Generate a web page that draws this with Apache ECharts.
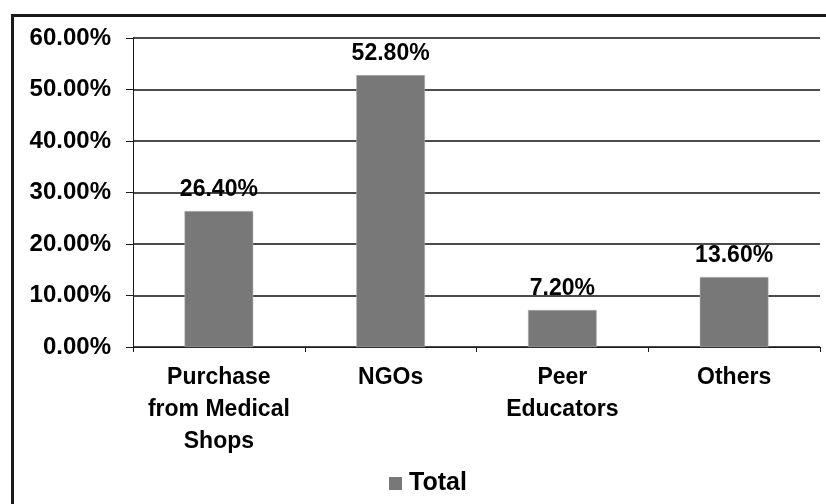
<!DOCTYPE html>
<html>
<head>
<meta charset="utf-8">
<script src="https://cdn.jsdelivr.net/npm/echarts@6/dist/echarts.min.js"></script>
<style>
  html, body { margin: 0; padding: 0; background: #fff; }
  #chart { width: 826px; height: 504px; }
</style>
</head>
<body>
<div id="chart"></div>
<script>
// Source of condoms, share of respondents (%)
const categories = ['Purchase\nfrom Medical\nShops', 'NGOs', 'Peer\nEducators', 'Others'];
const totalValues = [26.4, 52.8, 7.2, 13.6];
const seriesName = 'Total';
const yTicks = { min: 0, max: 60, interval: 10 };

const FONT = '"Liberation Sans", Arial, sans-serif';
const chart = echarts.init(document.getElementById('chart'), null, { renderer: 'canvas' });

chart.setOption({
  animation: false,
  backgroundColor: '#ffffff',
  textStyle: { fontFamily: FONT },
  grid: { left: 133, right: 6, top: 38, bottom: 157, containLabel: false },
  graphic: [{
    type: 'polyline',
    shape: { points: [[12.5, 504], [12.5, 15.5], [826, 15.5]] },
    style: { stroke: '#1a1a1a', lineWidth: 3, fill: null },
    silent: true
  }],
  legend: {
    data: [seriesName],
    top: 466,
    left: 384,
    icon: 'rect',
    itemWidth: 13,
    itemHeight: 13,
    itemGap: 8,
    itemStyle: { borderWidth: 0 },
    textStyle: { fontFamily: FONT, fontWeight: 'bold', fontSize: 25, color: '#000', padding: [0, 0, 0, 2] }
  },
  xAxis: {
    type: 'category',
    data: categories,
    axisLine: { show: true, lineStyle: { color: '#1a1a1a', width: 1 } },
    axisTick: { show: true, length: 5, alignWithLabel: false, lineStyle: { color: '#1a1a1a' } },
    axisLabel: {
      interval: 0,
      margin: 15,
      fontFamily: FONT,
      fontWeight: 'bold',
      fontSize: 23,
      lineHeight: 32,
      color: '#000'
    },
    splitLine: { show: false }
  },
  yAxis: {
    type: 'value',
    min: yTicks.min,
    max: yTicks.max,
    interval: yTicks.interval,
    axisLine: { show: true, lineStyle: { color: '#1a1a1a', width: 1 } },
    axisTick: { show: true, length: 7, lineStyle: { color: '#1a1a1a' } },
    axisLabel: {
      margin: 22,
      fontFamily: FONT,
      fontWeight: 'bold',
      fontSize: 24,
      color: '#000',
      formatter: v => v.toFixed(2) + '%'
    },
    splitLine: { show: true, lineStyle: { color: '#111111', width: 1.5 } }
  },
  series: [{
    name: seriesName,
    type: 'bar',
    data: totalValues,
    barWidth: '40%',
    itemStyle: { color: '#787878', borderColor: '#b8b8b8', borderWidth: 0.5 },
    label: {
      show: true,
      position: 'top',
      distance: 10,
      fontFamily: FONT,
      fontWeight: 'bold',
      fontSize: 23,
      color: '#000',
      formatter: p => p.value.toFixed(2) + '%'
    }
  }]
});
</script>
</body>
</html>
